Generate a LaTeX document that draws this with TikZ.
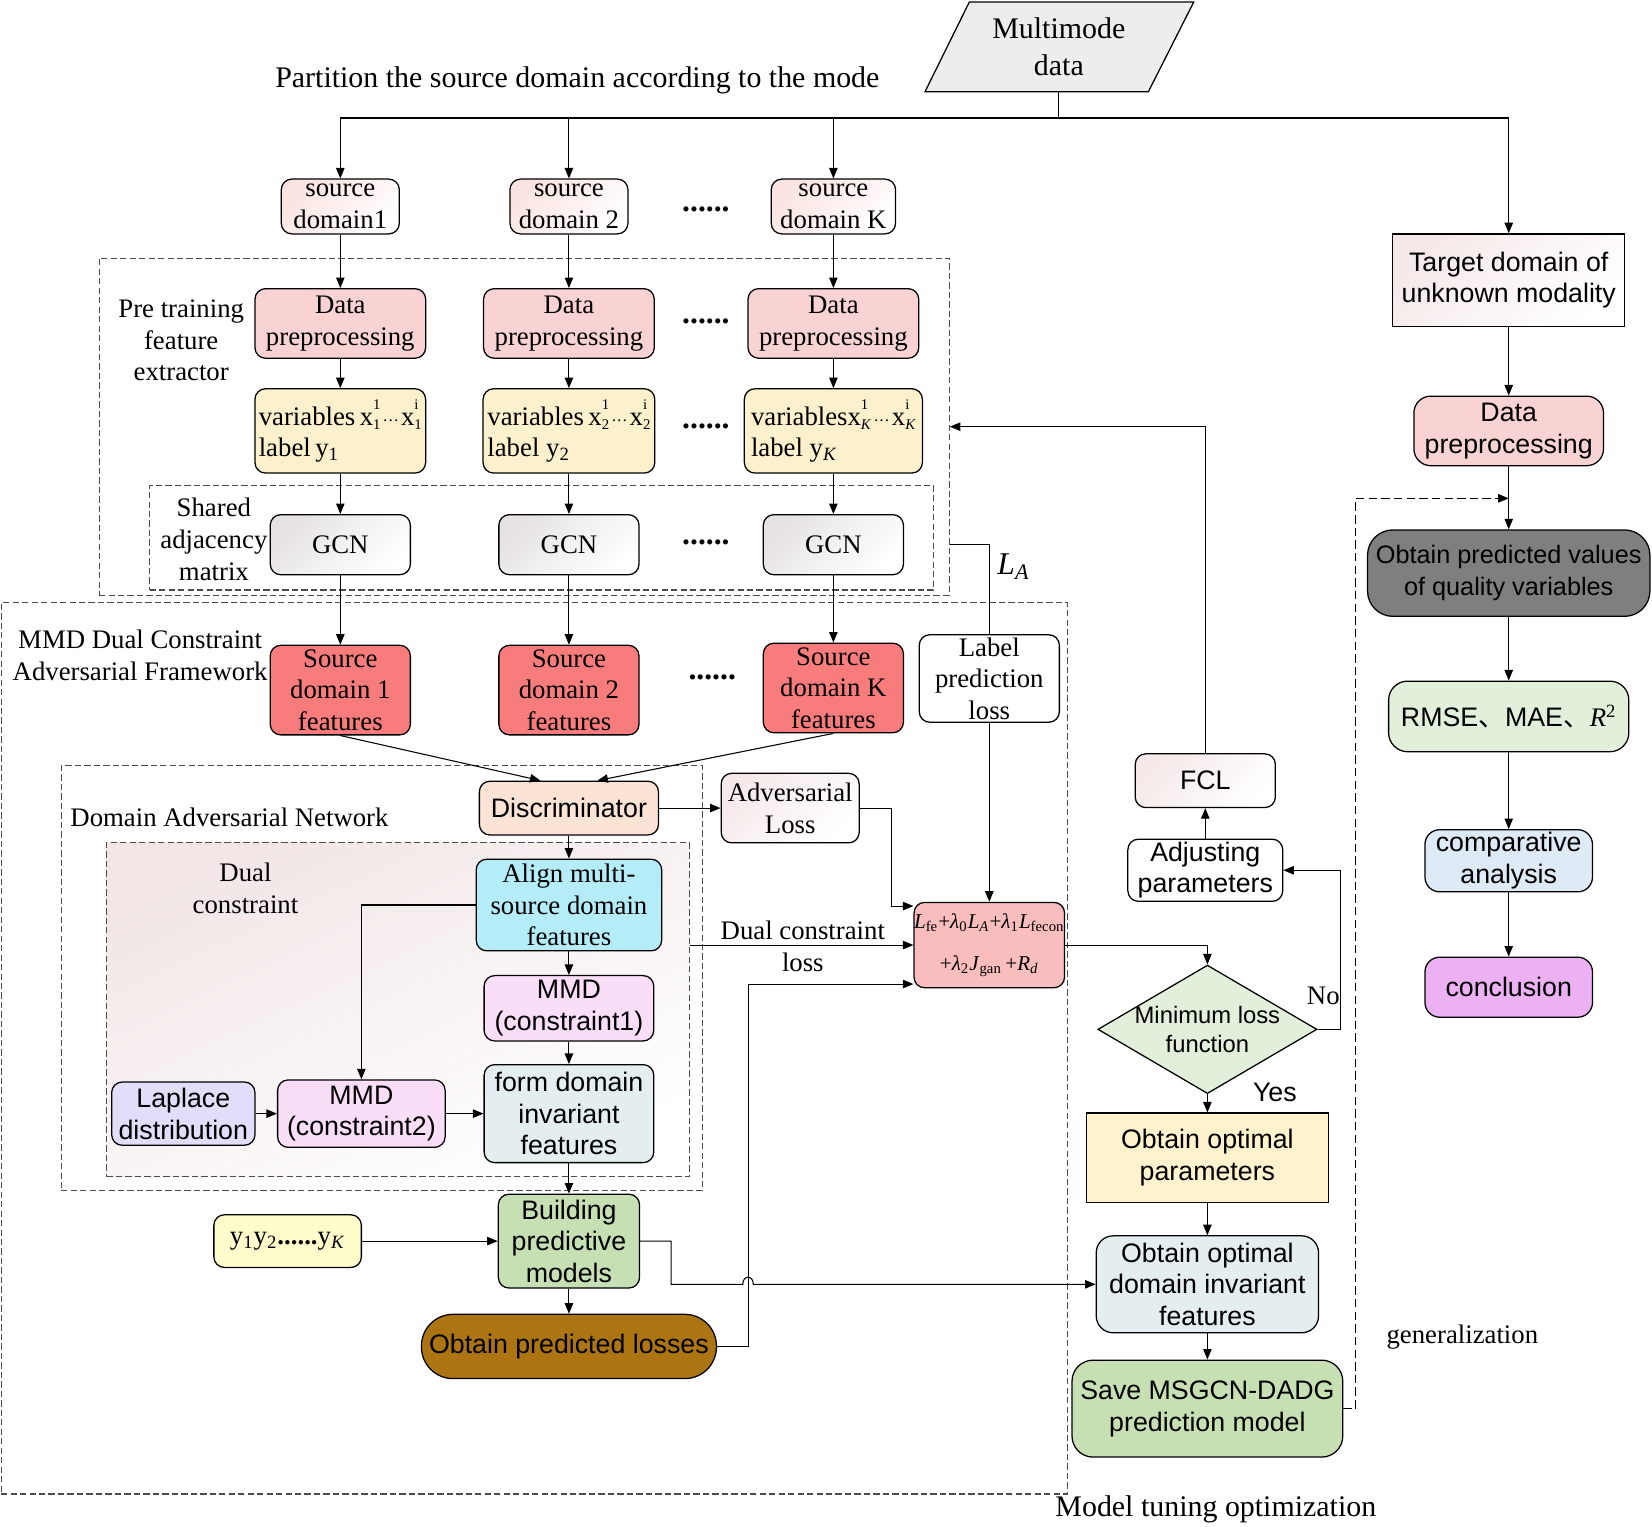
\documentclass[tikz,border=0pt]{standalone}
\usepackage{fontspec}
\setmainfont{Liberation Serif}
\setsansfont{Liberation Sans}
\newfontfamily\cjk{Noto Sans CJK SC}
\usepackage{xcolor}
\usetikzlibrary{arrows.meta,shapes.geometric}

\definecolor{paragray}{HTML}{EDEDED}
\definecolor{srcpink}{HTML}{FAE3E0}
\definecolor{prepink}{HTML}{F9D3D3}
\definecolor{varyellow}{HTML}{FDF0CD}
\definecolor{gcngray}{HTML}{E6E2E2}
\definecolor{featred}{HTML}{F87C7C}
\definecolor{discpeach}{HTML}{FBE4D5}
\definecolor{aligncyan}{HTML}{B4ECF7}
\definecolor{mmdpink}{HTML}{FADDF6}
\definecolor{laplav}{HTML}{E2DDF9}
\definecolor{invblue}{HTML}{E4EEF0}
\definecolor{buildgreen}{HTML}{C6E0B4}
\definecolor{ylight}{HTML}{FEFDCB}
\definecolor{lossbrown}{HTML}{AD7511}
\definecolor{formpink}{HTML}{FABDBD}
\definecolor{diagreen}{HTML}{E2EFDA}
\definecolor{optyellow}{HTML}{FFF2CC}
\definecolor{predgray}{HTML}{7F7F7F}
\definecolor{compblue}{HTML}{DEEAF6}
\definecolor{conviolet}{HTML}{EBB1F3}
\definecolor{dualpink}{HTML}{F2E6E6}
\definecolor{softpink}{HTML}{F5E8E8}

\newcommand{\xv}[2]{x\makebox[0pt][l]{\raisebox{1.3ex}{\scriptsize#1}}\raisebox{-0.4ex}{\scriptsize#2}}
\newcommand{\cd}{\kern1pt$\scriptstyle\cdots$\kern1pt}

\begin{document}
\fontsize{12.7}{15}\selectfont
\begin{tikzpicture}[x=0.5pt,y=-0.5pt,
	wh/.style 2 args={minimum width=#1*0.5pt,minimum height=#2*0.5pt},
	rbox/.style={draw,rounded corners=5pt,line width=0.6pt,align=center,inner sep=1pt},
	dashframe/.style={draw=black!70,dashed,dash pattern=on 3pt off 1.5pt,line width=0.5pt,inner sep=0pt},
	arr/.style={-{Triangle[length=5pt,width=4pt]},line width=0.5pt},
	ellip/.style={font=\fontsize{15}{18}\bfseries\selectfont},
	big/.style={font=\fontsize{14.2}{17.5}\selectfont,align=center}]
			\useasboundingbox (0,0) rectangle (1568,1449);
			
			\node[dashframe,wh={1012}{846}] (mmdframe) at (507,995) {};
			\node[dashframe,wh={609}{403}] (danet) at (362.5,928.5) {};
			\node[dashframe,wh={553}{317},top color=dualpink,middle color=white,bottom color=white,shading angle=25] (dualbox) at (377.5,958.5) {};
			\node[dashframe,wh={807}{320}] (pretrain) at (497.5,405) {};
			\node[dashframe,wh={744}{99}] (shared) at (514,510.5) {};
			
			\draw[fill=paragray,line width=0.6pt] (878,87) -- (920,2) -- (1133,2) -- (1090,87) -- cycle;
			\node[big,minimum height=42.5pt] (mmdata) at (1005,44.5) {Multimode\\data};
			\node[big] (partition) at (548,76) {Partition the source domain according to the mode};
			
			\node[rbox,wh={112}{52},top color=srcpink,bottom color=white,shading angle=45] (src1) at (323,196) {source\\domain1};
			\node[rbox,wh={112}{52},top color=srcpink,bottom color=white,shading angle=45] (src2) at (540,196) {source\\domain 2};
			\node[rbox,wh={118}{52},top color=srcpink,bottom color=white,shading angle=45] (srcK) at (791,196) {source\\domain K};
			\node[ellip] (dots1) at (670,199) {......};
			
			\node[align=center] (pretrainlbl) at (172,323) {Pre training\\feature\\extractor};
			\node[rbox,wh={162}{66},fill=prepink] (prep1) at (323,307) {Data\\preprocessing};
			\node[rbox,wh={162}{66},fill=prepink] (prep2) at (540,307) {Data\\preprocessing};
			\node[rbox,wh={162}{66},fill=prepink] (prepK) at (791,307) {Data\\preprocessing};
			\node[ellip] (dots2) at (670,305) {......};
			
			\node[rbox,wh={162}{80},fill=varyellow,align=left,inner sep=0.5pt] (var1) at (323,409) {variables\,\xv{1}{1}\cd\xv{i}{1}\\ label\,y\textsubscript{1}};
			\node[rbox,wh={163}{80},fill=varyellow,align=left,inner sep=0.5pt] (var2) at (540,409) {variables\,\xv{1}{2}\cd\xv{i}{2}\\ label y\textsubscript{2}};
			\node[rbox,wh={169}{80},fill=varyellow,align=left,inner sep=0.5pt] (varK) at (791,409) {variables\xv{1}{\textit{K}}\cd\xv{i}{\textit{K}}\\ label y\textsubscript{\textit{K}}};
			\node[ellip] (dots3) at (670,405) {......};
			
			\node[align=center] (sharedlbl) at (203,512) {Shared\\adjacency\\matrix};
			\node[rbox,wh={133}{57},top color=gcngray,bottom color=white,shading angle=45] (gcn1) at (323,517) {GCN};
			\node[rbox,wh={133}{57},top color=gcngray,bottom color=white,shading angle=45] (gcn2) at (540,517) {GCN};
			\node[rbox,wh={133}{57},top color=gcngray,bottom color=white,shading angle=45] (gcnK) at (791,517) {GCN};
			\node[ellip] (dots4) at (670,515) {......};
			
			\node[align=center] (mmdlbl) at (133,622) {MMD Dual Constraint\\Adversarial Framework};
			\node[rbox,wh={133}{85},fill=featred] (feat1) at (323,655) {Source\\domain 1\\features};
			\node[rbox,wh={133}{85},fill=featred] (feat2) at (540,655) {Source\\domain 2\\features};
			\node[rbox,wh={133}{85},fill=featred] (featK) at (791,653) {Source\\domain K\\features};
			\node[ellip] (dots5) at (676,643) {......};
			\node[rbox,wh={133}{83}] (labloss) at (939,644) {Label\\prediction\\loss};
			\node (la) at (962,538) {\fontsize{15}{18}\selectfont\textit{L}\textsubscript{\textit{A}}};
			
			\node[anchor=west] (danetlbl) at (58,776) {Domain Adversarial Network};
			\node[rbox,wh={170}{51},fill=discpeach,font=\sffamily] (disc) at (540,767) {Discriminator};
			\node[rbox,wh={131}{66},top color=softpink,bottom color=white,shading angle=45] (advloss) at (750,767) {Adversarial\\Loss};
			
			\node[align=center] (duallbl) at (233,843) {Dual\\constraint};
			\node[rbox,wh={176}{87},fill=aligncyan] (align) at (540,859) {Align multi-\\source domain\\features};
			\node[rbox,wh={161}{62},fill=mmdpink,font=\sffamily] (mmd1) at (540,957) {MMD\\(constraint1)};
			\node[rbox,wh={159}{64},fill=mmdpink,font=\sffamily] (mmd2) at (343,1057) {MMD\\(constraint2)};
			\node[rbox,wh={136}{60},fill=laplav,font=\sffamily] (laplace) at (174,1057) {Laplace\\distribution};
			\node[rbox,wh={161}{93},fill=invblue,font=\sffamily] (formdi) at (540,1057) {form domain\\invariant\\features};
			
			\node[align=center] (dclbl) at (762,898) {Dual constraint\\loss};
			\node[rbox,wh={136}{81},fill=formpink,inner sep=0pt,font=\fontsize{10}{20}\selectfont] (formula) at (939,897) {\textit{L}\textsubscript{fe}+\textit{λ}\textsubscript{0}\textit{L}\textsubscript{\textit{A}}+\textit{λ}\textsubscript{1}\textit{L}\textsubscript{fecon}\\+\textit{λ}\textsubscript{2}\textit{J}\textsubscript{gan}\,+\textit{R}\textsubscript{\textit{d}}};
			
			\node[rbox,wh={134}{89},fill=buildgreen,font=\sffamily] (build) at (540,1178) {Building\\predictive\\models};
			\node[rbox,wh={140}{50},fill=ylight] (ys) at (273,1178) {y\textsubscript{1}y\textsubscript{2}\textbf{......}y\textsubscript{\textit{K}}};
			\node[rbox,wh={280}{61},fill=lossbrown,font=\sffamily,rounded corners=15pt] (predloss) at (540,1278) {Obtain predicted losses};
			
			\node[rbox,wh={133}{51},top color=softpink,bottom color=white,shading angle=45,font=\sffamily] (fcl) at (1144,741) {FCL};
			\node[rbox,wh={147}{59},font=\sffamily] (adjust) at (1144,826) {Adjusting\\parameters};
			\node[diamond,draw,fill=diagreen,line width=0.6pt,wh={208}{122},inner sep=0pt] (minloss) at (1146,977) {};
			\node[align=center,font=\fontsize{11.3}{13.5}\sffamily\selectfont] (minlosstxt) at (1146,977) {Minimum loss\\function};
			\node (no) at (1256,945) {No};
			\node[font=\sffamily] (yes) at (1210,1037) {Yes};
			\node[rbox,sharp corners,wh={230}{85},fill=optyellow,font=\sffamily] (optparam) at (1146,1099) {Obtain optimal\\parameters};
			\node[rbox,wh={211}{92},fill=invblue,font=\sffamily,rounded corners=8pt] (optdi) at (1146,1219) {Obtain optimal\\domain invariant\\features};
			\node[rbox,wh={257}{92},fill=buildgreen,font=\sffamily,rounded corners=10pt] (save) at (1146,1337) {Save MSGCN-DADG\\prediction model};
			\node (gen) at (1388,1269) {generalization};
			\node[big] (tuning) at (1154,1433) {Model tuning optimization};
			
			\node[rbox,sharp corners,wh={220}{88},top color=softpink,bottom color=white,shading angle=45,font=\sffamily] (target) at (1432,266) {Target domain of\\unknown modality};
			\node[rbox,wh={180}{66},fill=prepink,font=\sffamily,rounded corners=8pt] (prepT) at (1432,409) {Data\\preprocessing};
			\node[rbox,wh={268}{82},fill=predgray,font=\fontsize{12}{15}\sffamily\selectfont,rounded corners=12pt] (predval) at (1432,544) {Obtain predicted values\\of quality variables};
			\node[rbox,wh={228}{67},fill=diagreen,font=\sffamily,rounded corners=9pt] (rmse) at (1432,680) {RMSE{\cjk 、}MAE{\cjk 、}{\rmfamily\textit{R}\textsuperscript{2}}};
			\node[rbox,wh={159}{59},fill=compblue,font=\sffamily,rounded corners=7pt] (comp) at (1432,817) {comparative\\analysis};
			\node[rbox,wh={159}{57},fill=conviolet,font=\sffamily,rounded corners=7pt] (concl) at (1432,937) {conclusion};
			
			\coordinate (split) at (1005,112);
			\draw[line width=0.5pt] (mmdata.south) -- (split);
			\foreach \n in {src1,src2,srcK,target}
				\draw[arr] (split) -| (\n.north);
			\foreach \a/\b in {src1/prep1,prep1/var1,var1/gcn1,gcn1/feat1,src2/prep2,prep2/var2,var2/gcn2,gcn2/feat2,srcK/prepK,prepK/varK,varK/gcnK,gcnK/featK,disc/align,align/mmd1,mmd1/formdi,formdi/build,build/predloss,labloss/formula,minloss/optparam,optparam/optdi,optdi/save,target/prepT,prepT/predval,predval/rmse,rmse/comp,comp/concl}
				\draw[arr] (\a.south) -- (\b.north);
			\draw[arr] (feat1.south) -- ([xshift=-13.5pt]disc.north);
			\draw[arr] (featK.south) -- ([xshift=13.5pt]disc.north);
			\draw[arr] (disc) -- (advloss);
			\draw[arr] (advloss.east) -- (846,767) |- ([yshift=18.5pt]formula.west);
			\draw[arr] (dualbox.east |- formula.west) -- (formula.west);
			\draw[arr] (predloss.east) -- (710,1278) |- ([yshift=-18.5pt]formula.west);
			\draw[arr] (align.west) -| (mmd2.north);
			\draw[arr] (laplace) -- (mmd2);
			\draw[arr] (mmd2) -- (formdi);
			\draw[arr] (ys) -- (build);
			\draw[arr] (build.east) -- (637,1178) |- (705,1219) .. controls (705,1210) and (715,1210) .. (715,1219) -- (optdi.west);
			\draw[arr] (formula.east) -| (minloss.north);
			\draw[arr] (minloss.east) -- (1272,977) |- (adjust.east);
			\draw[arr] (adjust) -- (fcl);
			\draw[arr] (fcl.north) |- (pretrain.east);
			\draw[line width=0.5pt] (pretrain.east |- gcnK.east) -| (labloss.north);
			\coordinate (genturn) at (1287,473);
			\draw[arr,dashed,dash pattern=on 4pt off 2pt] (save.east) -| (genturn) -- (genturn -| predval.north);
\end{tikzpicture}
\end{document}
